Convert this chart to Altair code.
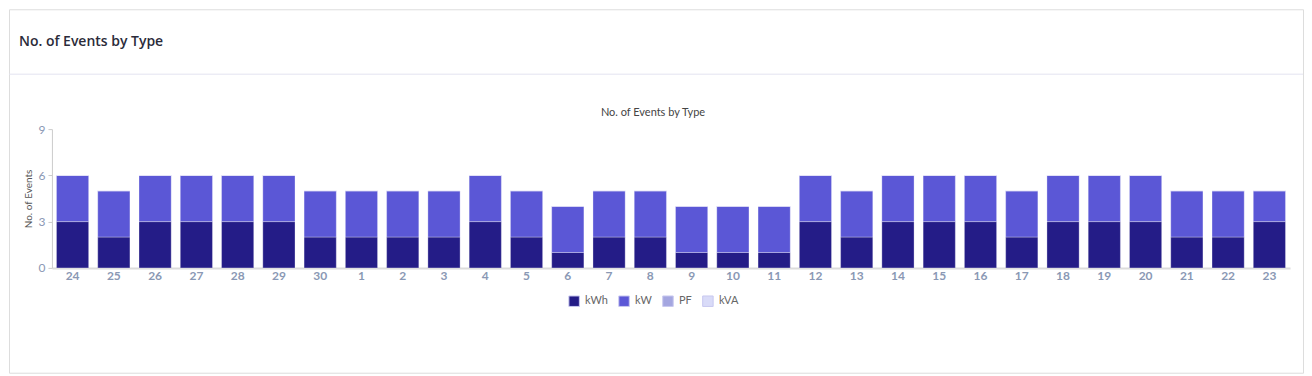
import altair as alt
import pandas as pd

days = ["24", "25", "26", "27", "28", "29", "30", "1", "2", "3", "4", "5", "6", "7", "8",
        "9", "10", "11", "12", "13", "14", "15", "16", "17", "18", "19", "20", "21", "22", "23"]
kwh = [3, 2, 3, 3, 3, 3, 2, 2, 2, 2, 3, 2, 1, 2, 2, 1, 1, 1, 3, 2, 3, 3, 3, 2, 3, 3, 3, 2, 2, 3]
kw = [3, 3, 3, 3, 3, 3, 3, 3, 3, 3, 3, 3, 3, 3, 3, 3, 3, 3, 3, 3, 3, 3, 3, 3, 3, 3, 3, 3, 3, 2]
pf = [0] * 30
kva = [0] * 30
types = ["kWh", "kW", "PF", "kVA"]
colors = ["#241c87", "#5b57d6", "#a4a6e0", "#d9dbf8"]

rows = []
for i, d in enumerate(days):
    for t, vals in zip(types, [kwh, kw, pf, kva]):
        rows.append({"day": d, "type": t, "order": types.index(t), "events": vals[i]})
df = pd.DataFrame(rows)

W, H = 1296, 364
FONT = "Lato"

bars = alt.Chart(df).mark_bar(stroke="#ffffff", strokeWidth=1, strokeOpacity=0.3).encode(
    x=alt.X("day:N", sort=days,
            scale=alt.Scale(range=[43, 1283], paddingInner=0.22, paddingOuter=0.11),
            axis=alt.Axis(title=None, offset=-105, labelAngle=0, ticks=False,
                          domainColor="#dcdcdc", domainWidth=2, labelColor="#8a98b4",
                          labelFontSize=12, labelFont=FONT, labelFontWeight="bold",
                          labelPadding=3)),
    y=alt.Y("events:Q", stack="zero",
            scale=alt.Scale(domain=[0, 9], range=[259, 120], nice=False),
            axis=alt.Axis(title="No. of Events", values=[0, 3, 6, 9], offset=-43, grid=False,
                          domainColor="#cccccc", tickColor="#cccccc", tickSize=4,
                          labelColor="#8a98b4", labelFontSize=12, labelFont=FONT,
                          titleFont=FONT, titleFontSize=10, titleFontWeight="normal",
                          titleColor="#555555", titlePadding=5, labelPadding=3)),
    color=alt.Color("type:N", sort=types,
                    scale=alt.Scale(domain=types, range=colors),
                    legend=alt.Legend(title=None, orient="none", direction="horizontal",
                                      legendX=560, legendY=286, symbolType="square",
                                      symbolSize=110, symbolStrokeColor="#c8c8f0",
                                      symbolStrokeWidth=1, labelFont=FONT, labelFontSize=11,
                                      labelColor="#666666", columnPadding=8,
                                      labelOffset=5)),
    order=alt.Order("order:Q", sort="ascending"),
)

header = alt.Chart(pd.DataFrame({"t": ["No. of Events by Type"]})).mark_text(
    align="left", baseline="middle", font="Open Sans", fontSize=14, fontWeight=600,
    color="#2b2b3a"
).encode(x=alt.value(10), y=alt.value(33), text="t:N")

inner_title = alt.Chart(pd.DataFrame({"t": ["No. of Events by Type"]})).mark_text(
    align="center", baseline="middle", font=FONT, fontSize=11, color="#444444"
).encode(x=alt.value(645), y=alt.value(104), text="t:N")

divider = alt.Chart(pd.DataFrame({"a": [0]})).mark_rule(color="#e3e3f0", strokeWidth=1).encode(
    x=alt.value(0), x2=alt.value(W), y=alt.value(65)
)

chart = alt.layer(divider, header, inner_title, bars).properties(
    width=W, height=H, padding={"left": 1, "top": 1, "right": 1, "bottom": 1},
    autosize=alt.AutoSizeParams(type="none"),
).configure_view(stroke="#e3e3ef", strokeWidth=1).configure(background="#ffffff")

chart.save("out.html", embed_options={"renderer": "svg", "actions": False})
